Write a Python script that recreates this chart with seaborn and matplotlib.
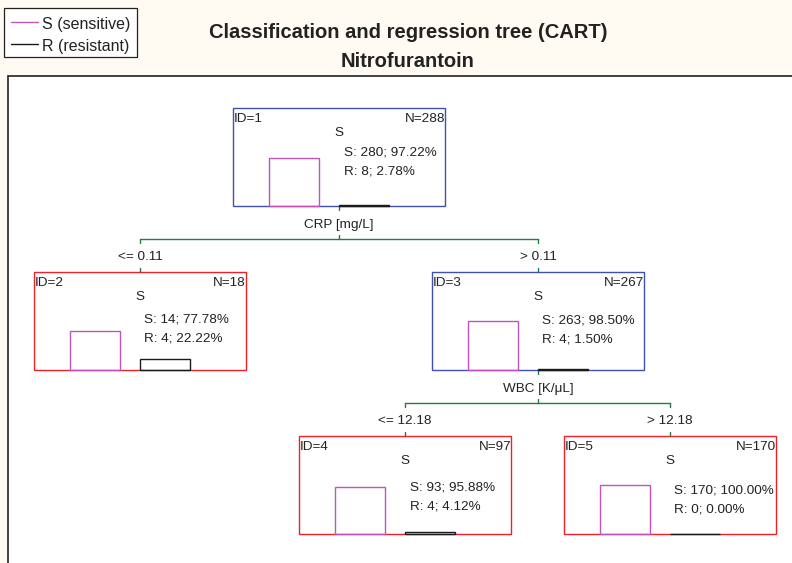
import matplotlib
matplotlib.use("Agg")
import matplotlib.pyplot as plt
from matplotlib.patches import Rectangle
import seaborn as sns
import pandas as pd

# ---- tree content -------------------------------------------------------
node_ids = [1, 2, 3, 4, 5]
node_n = [288, 18, 267, 97, 170]
count_s = [280, 14, 263, 93, 170]
count_r = [8, 4, 4, 4, 0]
pct_s = [97.22, 77.78, 98.50, 95.88, 100.00]
pct_r = [2.78, 22.22, 1.50, 4.12, 0.00]
predicted = ["S", "S", "S", "S", "S"]
is_leaf = [False, True, False, True, True]

split_parent = [1, 3]
split_children = [(2, 3), (4, 5)]
split_vars = ["CRP [mg/L]", "WBC [K/\u03bcL]"]
split_left = ["<= 0.11", "<= 12.18"]
split_right = ["> 0.11", "> 12.18"]

classes = ["S", "R"]
class_names = ["S (sensitive)", "R (resistant)"]
title_lines = ["Classification and regression tree (CART)", "Nitrofurantoin"]

# ---- styling / layout (pixel units, y grows downward) -------------------
W, H = 792, 563
BG = "#fffaf2"
INK = "#222222"
PINK = "#c453b9"
BLACK = "#1a1a1a"
GREEN = "#1f7f41"
BLUE = "#3f51b0"
RED = "#f0202a"
class_colors = {"S": PINK, "R": BLACK}

node_cx = [339, 140, 538, 405, 670]
node_top = [108, 272, 272, 436, 436]
box_w, box_h = 212, 98
s_line_dy = [47.3, 50.3, 51.3, 54.7, 57.3]
bar_px = 49.5
FS = 9.7

sns.set_style("white")
plt.rcParams["font.family"] = ["Liberation Sans", "DejaVu Sans"]

fig = plt.figure(figsize=(W / 100, H / 100), dpi=100, facecolor=BG)
ax = fig.add_axes([0, 0, 1, 1])
ax.set_xlim(0, W)
ax.set_ylim(H, 0)
ax.axis("off")
ax.patch.set_alpha(0)

# drawing area with its frame (right and bottom fall outside the figure)
ax.add_patch(Rectangle((8, 76), 820, 520, facecolor="white",
                       edgecolor="#333333", lw=1.3, zorder=0))

# legend
ax.add_patch(Rectangle((4, 8), 133, 49, facecolor="white",
                       edgecolor=INK, lw=0.9, zorder=1))
for k, (cls, name) in enumerate(zip(classes, class_names)):
    y = 22 + 21.5 * k
    ax.plot([11, 38], [y, y], color=class_colors[cls], lw=1.0, zorder=2)
    ax.text(41.5, y + 7.5, name, fontsize=11.5, color=INK,
            ha="left", va="baseline", zorder=2)

# title
ax.text(408, 38.3, title_lines[0], fontsize=14.5, fontweight="bold",
        color=INK, ha="center", va="baseline")
ax.text(408, 67.3, title_lines[1], fontsize=14.5, fontweight="bold",
        color=INK, ha="center", va="baseline")

# node boxes and their labels
for i, nid in enumerate(node_ids):
    cx, top = node_cx[i], node_top[i]
    left, right = cx - box_w / 2, cx + box_w / 2
    ax.add_patch(Rectangle((left, top), box_w, box_h, facecolor="none",
                           edgecolor=RED if is_leaf[i] else BLUE, lw=1.0,
                           zorder=3))
    ax.text(left + 0.5, top + 13.7, f"ID={nid}", fontsize=FS, color=INK,
            ha="left", va="baseline")
    ax.text(right, top + 13.7, f"N={node_n[i]}", fontsize=FS, color=INK,
            ha="right", va="baseline")
    ax.text(cx, top + 28.5, predicted[i], fontsize=FS, color=INK,
            ha="center", va="baseline")
    dy = s_line_dy[i]
    ax.text(cx + 4.5, top + dy, f"S: {count_s[i]}; {pct_s[i]:.2f}%",
            fontsize=FS, color=INK, ha="left", va="baseline")
    ax.text(cx + 4.5, top + dy + 19, f"R: {count_r[i]}; {pct_r[i]:.2f}%",
            fontsize=FS, color=INK, ha="left", va="baseline")

# connectors with split variable and thresholds
idx = {nid: i for i, nid in enumerate(node_ids)}
for s, pid in enumerate(split_parent):
    p = idx[pid]
    cxp = node_cx[p]
    yb = node_top[p] + box_h
    yh = yb + 33
    c1, c2 = (idx[c] for c in split_children[s])
    ax.plot([node_cx[c1], node_cx[c2]], [yh, yh], color=GREEN, lw=1.0)
    ax.plot([cxp, cxp], [yb, yb + 3.5], color=GREEN, lw=1.0)
    ax.plot([cxp, cxp], [yh - 4, yh], color=GREEN, lw=1.0)
    ax.text(cxp, yb + 21.7, split_vars[s], fontsize=FS, color=INK,
            ha="center", va="baseline")
    for c, lab in ((c1, split_left[s]), (c2, split_right[s])):
        cxc, topc = node_cx[c], node_top[c]
        ax.plot([cxc, cxc], [yh, yh + 3.5], color=GREEN, lw=1.0)
        ax.plot([cxc, cxc], [topc - 4, topc], color=GREEN, lw=1.0)
        ax.text(cxc, yh + 21.3, lab, fontsize=FS, color=INK,
                ha="center", va="baseline")

# class-share bars inside each node
for i in range(len(node_ids)):
    cx = node_cx[i]
    yb = node_top[i] + box_h
    iax = fig.add_axes([(cx - 80) / W, (H - yb) / H, 140 / W, bar_px / H])
    df = pd.DataFrame({"cls": classes,
                       "share": [pct_s[i] / 100, pct_r[i] / 100]})
    sns.barplot(data=df, x="cls", y="share", hue="cls", palette=class_colors,
                fill=False, width=50 / 70, linewidth=1.0, legend=False,
                ax=iax)
    iax.set_xlim(-0.5, 1.5)
    iax.set_ylim(0, 1)
    iax.axis("off")
    iax.patch.set_alpha(0)
    for bar in iax.patches:
        bar.set_clip_on(False)

fig.savefig("out.png", dpi=100, facecolor=BG)
